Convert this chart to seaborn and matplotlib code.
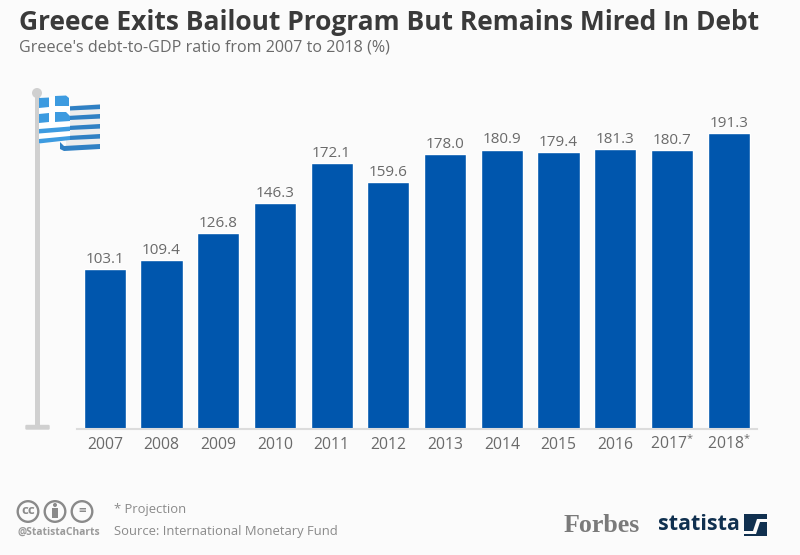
"""
Greece debt-to-GDP bar chart (Forbes / Statista style)
"""

import matplotlib
matplotlib.use('Agg')
import matplotlib.pyplot as plt
from matplotlib.patches import Circle, Polygon, Rectangle, FancyBboxPatch
import pandas as pd
import seaborn as sns

years = ['2007', '2008', '2009', '2010', '2011', '2012', '2013', '2014', '2015', '2016', '2017$^{*}$', '2018$^{*}$']
debt_ratio = [103.1, 109.4, 126.8, 146.3, 172.1, 159.6, 178.0, 180.9, 179.4, 181.3, 180.7, 191.3]

BG = '#fbfbfb'
BAR = '#0056ad'
GREY = '#6a6a6a'
POLE = '#d0d0d0'
FLAG = '#3d9be0'
FLAG_DARK = '#2f80c4'

W, H = 800, 555

sns.set_theme(style='white')
plt.rcParams['font.family'] = ['Open Sans', 'DejaVu Sans']
plt.rcParams['mathtext.default'] = 'regular'

fig = plt.figure(figsize=(W / 100, H / 100), dpi=100, facecolor=BG)

# overlay in pixel coords for decoration and header/footer text
deco = fig.add_axes([0, 0, 1, 1], zorder=0)
deco.set_xlim(0, W)
deco.set_ylim(H, 0)
deco.axis('off')

# main axes, placed so the baseline falls at y=428
ax = fig.add_axes([77 / W, 1 - 428.5 / H, 680 / W, 328.5 / H], zorder=1)
ax.patch.set_alpha(0)

df = pd.DataFrame({'year': years, 'debt': debt_ratio})
sns.barplot(data=df, x='year', y='debt', color=BAR, saturation=1, width=0.745, ax=ax)
ax.set_xlim(-0.49, 11.5)
ax.set_ylim(0, 213)
ax.set_xlabel('')
ax.set_ylabel('')
ax.set_yticks([])
sns.despine(ax=ax, left=True)
ax.spines['bottom'].set_color('#dcdcdc')
ax.spines['bottom'].set_linewidth(1.5)
ax.tick_params(axis='x', length=0, pad=14.8, labelsize=11.3, labelcolor=GREY)
plt.setp(ax.get_xticklabels(), va='baseline')

for i, val in enumerate(debt_ratio):
    ax.annotate(f'{val:.1f}', (i, val), xytext=(0, 1.5), textcoords='offset points',
                ha='center', va='bottom', fontsize=11, color=GREY)

# title block
deco.text(19, 22, 'Greece Exits Bailout Program But Remains Mired In Debt', fontsize=19.0,
          fontweight='bold', color='#3a3a3a', va='center', ha='left')
deco.text(19, 48, "Greece's debt-to-GDP ratio from 2007 to 2018 (%)", fontsize=11.6,
          color=GREY, va='center', ha='left')

# flag pole
deco.add_patch(Rectangle((34.5, 93), 5, 335, color=POLE, lw=0))
deco.add_patch(Circle((37, 93), 5, color=POLE, lw=0))
deco.add_patch(FancyBboxPatch((26.5, 426), 22, 2.5, boxstyle='round,pad=1.2', color=POLE, lw=0))

# flag, right part with stripes
deco.add_patch(Polygon([(66, 106), (100, 104), (100, 148), (66, 148)], color='#ededed', lw=0))
for y in [105.5, 115, 125, 135]:
    deco.add_patch(Polygon([(70, y + 0.8), (100, y - 1), (100, y + 3.6), (70, y + 5)], color=FLAG_DARK, lw=0))
deco.add_patch(Polygon([(60, 142), (64, 146), (100, 144), (100, 149), (64, 151), (60, 149)], color=FLAG_DARK, lw=0))

# flag, left part with cross
deco.add_patch(Polygon([(39, 98), (66, 95), (70, 98), (70, 136), (39, 144)], color='white', lw=0))
deco.add_patch(Polygon([(39, 98), (49, 97.5), (49, 107), (39, 108)], color=FLAG, lw=0))
deco.add_patch(Polygon([(55, 96), (66, 95.5), (69, 98), (69, 106), (55, 106)], color=FLAG, lw=0))
deco.add_patch(Polygon([(39, 114), (49, 113), (49, 122), (39, 123)], color=FLAG, lw=0))
deco.add_patch(Polygon([(55, 112), (66, 112), (70, 116), (70, 121), (55, 122)], color=FLAG, lw=0))
deco.add_patch(Polygon([(39, 129), (70, 126.5), (70, 131), (39, 133.5)], color=FLAG, lw=0))
deco.add_patch(Polygon([(39, 139), (70, 136), (70, 140), (39, 143.5)], color=FLAG, lw=0))

# cc icons
for cx, label in zip([28, 55, 82], ['cc', '', '=']):
    deco.add_patch(Circle((cx, 511.5), 10.3, fill=False, ec='#8a8a8a', lw=1.7))
    if label:
        deco.text(cx, 511, label, fontsize=9.5, fontweight='bold', color='#8a8a8a', ha='center', va='center')
deco.add_patch(Circle((55, 505), 2, color='#8a8a8a', lw=0))
deco.add_patch(Rectangle((52, 508), 6, 10, color='#8a8a8a', lw=0))

# footer
deco.text(17, 532, '@StatistaCharts', fontsize=7.4, fontweight='bold', color='#9a9a9a', va='center', ha='left')
deco.text(114, 510, '* Projection', fontsize=9.4, color='#8a8a8a', va='center', ha='left')
deco.text(114, 531, 'Source: International Monetary Fund', fontsize=9.4, color='#8a8a8a', va='center', ha='left')

# logos
deco.text(564, 526, 'Forbes', fontsize=18.7, fontweight='bold', family='Liberation Serif',
          color='#7a7a7a', va='center', ha='left')
deco.text(658, 525, 'statista', fontsize=15.4, fontweight='bold', color='#10304f', va='center', ha='left')
deco.add_patch(Rectangle((744, 514), 23, 22, color='#10304f', lw=0))
deco.add_patch(Polygon([(744, 531), (753, 531), (757, 519), (767, 519), (767, 522), (760, 522), (756, 534), (744, 534)],
                       color=BG, lw=0))

fig.savefig('out.png', dpi=100, facecolor=BG)
